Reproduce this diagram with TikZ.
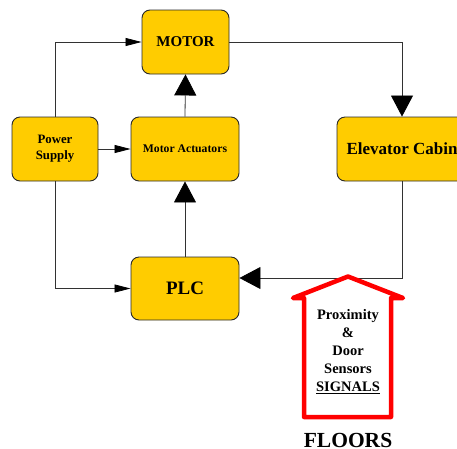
\documentclass[tikz,border=0pt]{standalone}
\usepackage{fontspec}
\setmainfont{Liberation Serif}
\usetikzlibrary{arrows.meta}
\definecolor{boxfill}{RGB}{255,204,0}
\definecolor{boxline}{RGB}{40,40,40}
\definecolor{wire}{RGB}{50,50,50}
\begin{document}
\begin{tikzpicture}[x=1pt,y=-1pt,
  blk/.style={draw=boxline,line width=0.9pt,fill=boxfill,rounded corners=8pt,
    inner sep=0pt,align=center,font=\bfseries},
  smallarr/.style={draw=wire,line width=0.8pt,-{Triangle[length=16pt,width=8pt,color=black]}},
  bigarr/.style={draw=wire,line width=0.8pt,-{Triangle[length=21pt,width=22pt,color=black]}},
]
\useasboundingbox (0,0) rectangle (457,448);
\clip (0,0) rectangle (457,448);
\node[blk,minimum width=87pt,minimum height=64pt,font=\bfseries\fontsize{15}{17}\selectfont] (motor) at (185.5,42) {MOTOR};
\node[blk,minimum width=86pt,minimum height=64pt,font=\bfseries\fontsize{12.8}{16}\selectfont] (ps) at (55,149) {Power\\Supply};
\node[blk,minimum width=108pt,minimum height=64pt,font=\bfseries\fontsize{11.7}{14}\selectfont] (act) at (185,149) {Motor Actuators};
\node[blk,minimum width=130pt,minimum height=64pt,font=\bfseries\fontsize{17}{20}\selectfont] (cabin) at (402,149) {Elevator Cabin};
\node[blk,minimum width=108pt,minimum height=63pt,font=\bfseries\fontsize{19}{22}\selectfont] (plc) at (185,288.5) {PLC};
\coordinate (plcin) at ([yshift=10.5pt]plc.east);

\draw[smallarr] (ps.north) |- (motor.west);
\draw[smallarr] (ps.east) -- (act.west);
\draw[smallarr] (ps.south) |- (plc.west);
\draw[bigarr] (act.north) -- (motor.south);
\draw[bigarr] (plc.north) -- (act.south);
\draw[bigarr] (motor.east) -| (cabin.north);
\draw[bigarr] (cabin.south) |- (plcin);

\draw[red,line width=4.5pt,line join=round,line cap=round]
  (304,298) -- (293,298) -- (348,276.5) -- (403,298) -- (391,298) -- (391,417) -- (304,417) -- cycle;
\node[align=center,inner sep=0pt,font=\bfseries\fontsize{14.5}{18}\selectfont] (sens) at (348,352)
  {Proximity\\\&\\Door\\Sensors\\\underline{SIGNALS}};
\node[inner sep=0pt,font=\bfseries\fontsize{21.5}{24}\selectfont] (floors) at (348,440) {FLOORS};
\end{tikzpicture}
\end{document}
